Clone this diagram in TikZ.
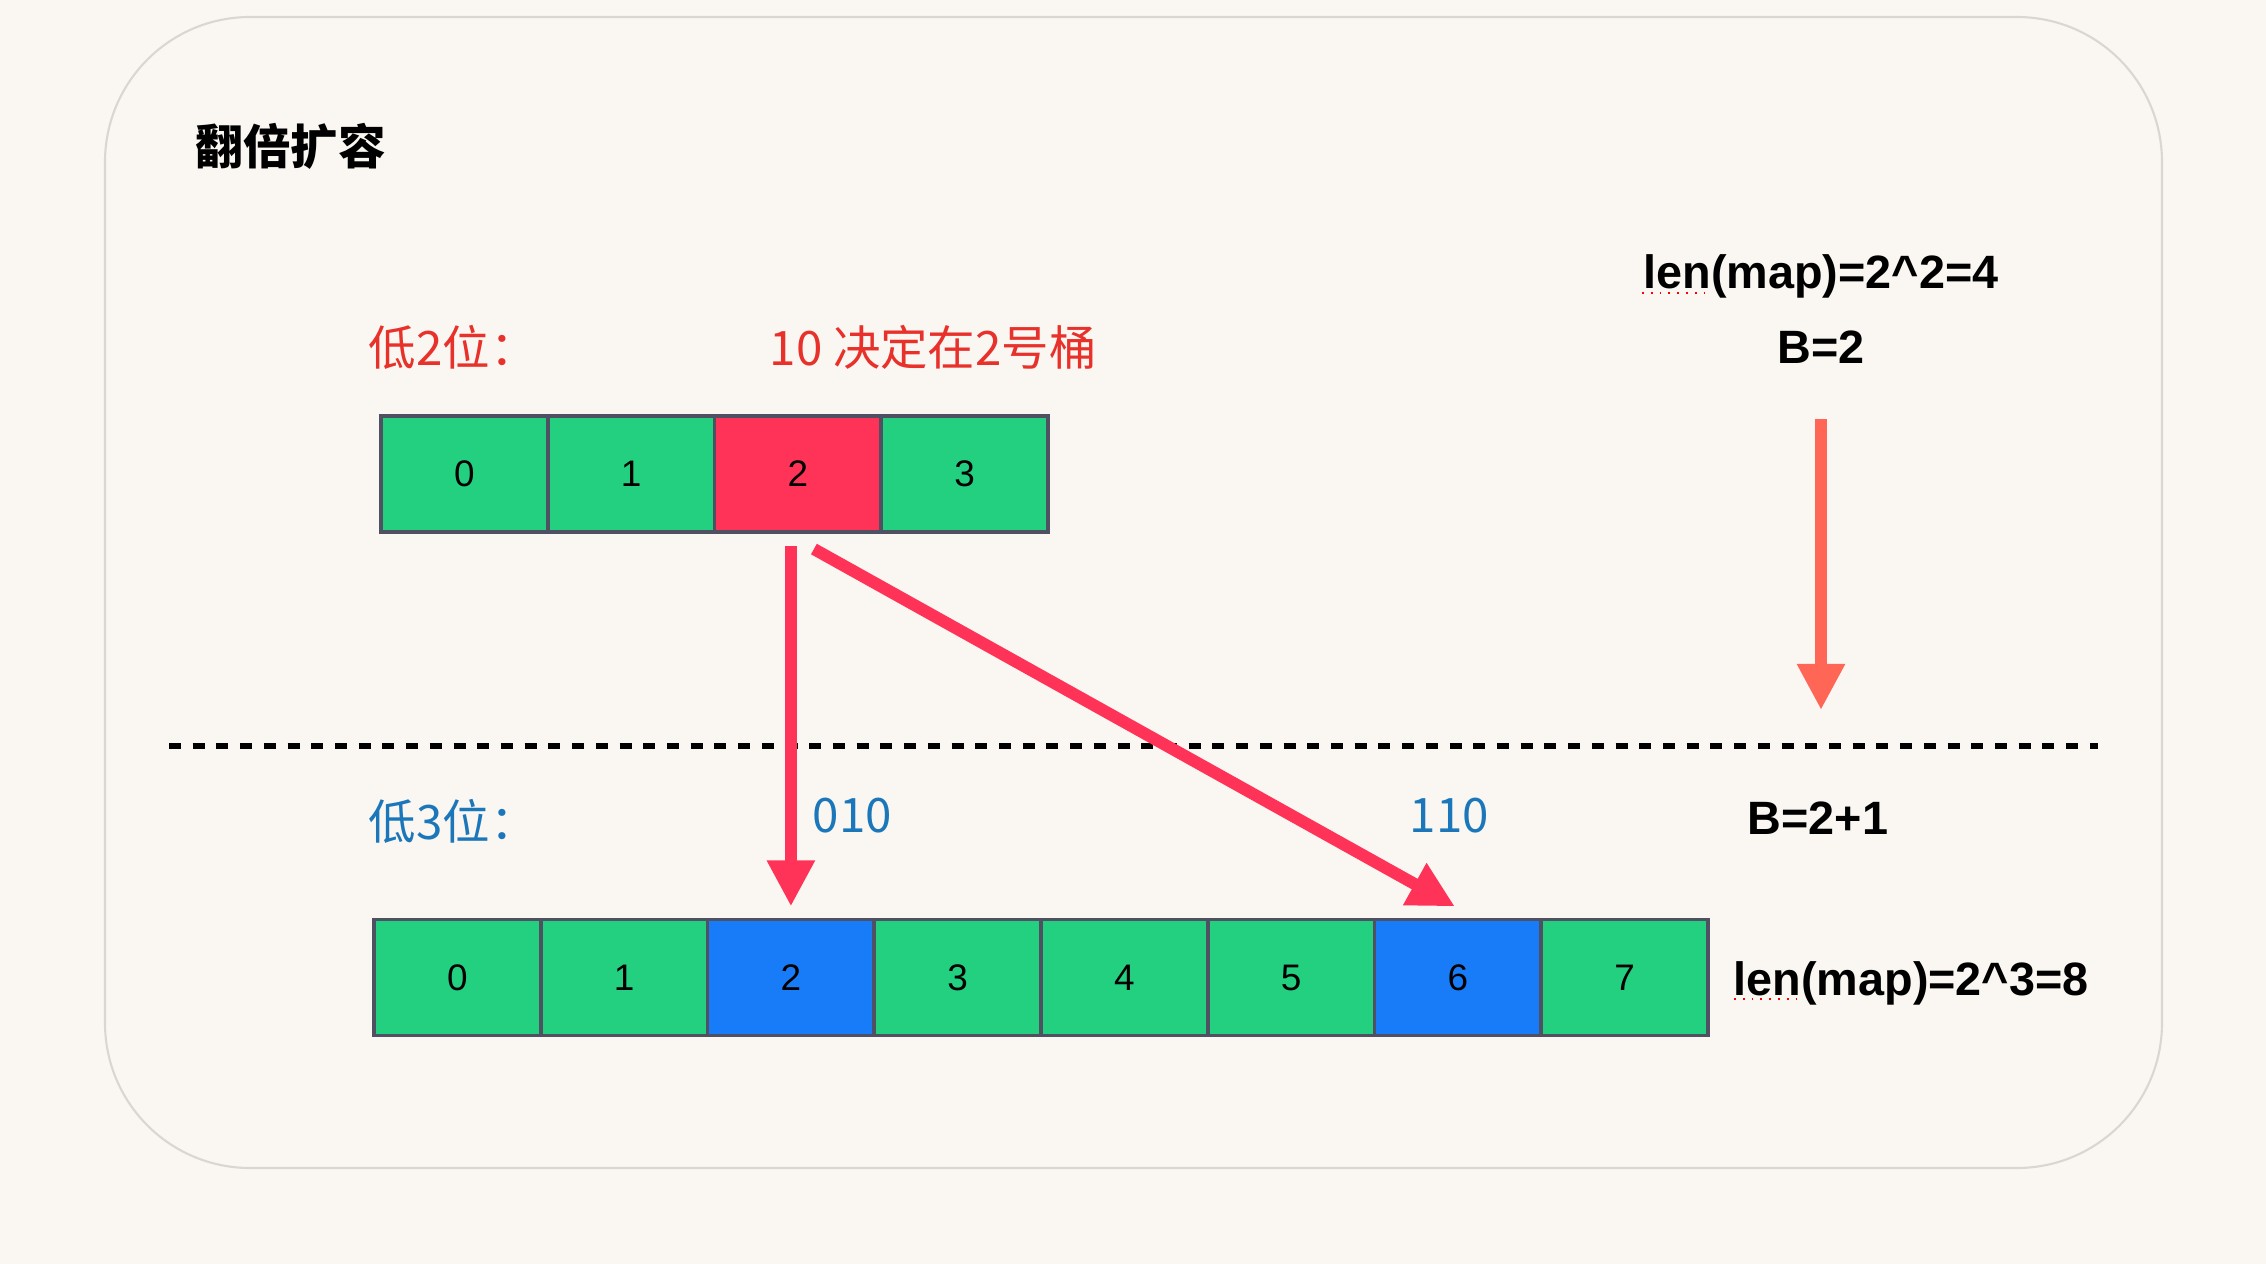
\documentclass[tikz,border=0pt]{standalone}
\usepackage{fontspec}
\setmainfont{Liberation Sans}
\newfontfamily\cjk{Noto Sans CJK SC}
\usetikzlibrary{positioning,arrows.meta}

\definecolor{bgc}{HTML}{FAF7F2}
\definecolor{framec}{HTML}{D9D7D3}
\definecolor{cellg}{HTML}{22D07F}
\definecolor{cellr}{HTML}{FF3358}
\definecolor{cellb}{HTML}{187CF8}
\definecolor{edgec}{HTML}{4F5162}
\definecolor{txtr}{HTML}{E8312A}
\definecolor{txtb}{HTML}{1B77B9}
\definecolor{arro}{HTML}{FF6655}

\begin{document}
\begin{tikzpicture}[x=0.01cm,y=-0.01cm,
    cell/.style={draw=edgec,line width=1.1pt,minimum width=1.6675cm,minimum height=1.16cm,
      inner sep=0pt,outer sep=0pt,font=\fontsize{10.5}{12}\selectfont},
    big/.style={inner sep=0pt,font=\fontsize{13.3}{16}\selectfont\bfseries},
    cn/.style={inner sep=0pt,anchor=west,font=\cjk\fontsize{13.5}{16}\selectfont},
    hop/.style={draw=cellr,line width=0.12cm,-{Triangle[length=0.46cm,width=0.45cm]}},
    spell/.style={draw=red,dotted,line width=0.5pt}]

	% background and frame
	\fill[bgc] (0,0) rectangle (2266,1264);
	\useasboundingbox (0,0) rectangle (2266,1264);
	\draw[framec,line width=0.6pt,rounded corners=1.45cm] (105,17) rectangle (2162,1168);

	% title
	\node[cn,font=\cjk\bfseries\fontsize{13.5}{16}\selectfont] (title) at (195,146) {翻倍扩容};

	% top labels
	\node[cn,txtr] (low2) at (368,347) {低2位：};
	\node[cn,txtr] (dec) at (769,347) {10 决定在2号桶};
	\node[big] (len4) at (1821,276) {len(map)=2\textasciicircum2=4};
	\node[big] (B2) at (1821,347) {B=2};
	\draw[spell] (1642,293) -- (1706,293);

	% top buckets
	\foreach \i/\c in {0/cellg,1/cellg,2/cellr,3/cellg}
		\node[cell,fill=\c] (t\i) at (464.4+166.75*\i,474) {\i};

	% split line
	\coordinate (dl) at (169,746);
	\coordinate (dr) at (2098,746);
	\draw[line width=0.06cm,dash pattern=on 0.12cm off 0.117cm] (dl) -- (dr);

	% bottom labels
	\node[cn,txtb] (low3) at (368,821) {低3位：};
	\node[cn,txtb] (bits2) at (812,816) {010};
	\node[cn,txtb] (bits6) at (1409,816) {110};
	\node[big] (B3) at (1818,818) {B=2+1};

	% bottom buckets
	\foreach \i/\c in {0/cellg,1/cellg,2/cellb,3/cellg,4/cellg,5/cellg,6/cellb,7/cellg}
		\node[cell,fill=\c] (b\i) at (457.4+166.75*\i,977.5) {\i};

	\node[big,anchor=west] (len8) at (1733,983) {len(map)=2\textasciicircum3=8};
	\draw[spell] (1734,999) -- (1799,999);

	% arrows
	\draw[hop] ([yshift=-0.14cm]b2.north |- t2.south) -- ([yshift=0.13cm]b2.north);
	\draw[hop] ([xshift=0.16cm,yshift=-0.17cm]t2.south) -- ([xshift=-0.03cm,yshift=0.13cm]b6.north);
	\coordinate (Bend) at (1821,710);
	\draw[hop,draw=arro] ([yshift=-0.55cm]B2.south) -- (Bend);
\end{tikzpicture}
\end{document}
